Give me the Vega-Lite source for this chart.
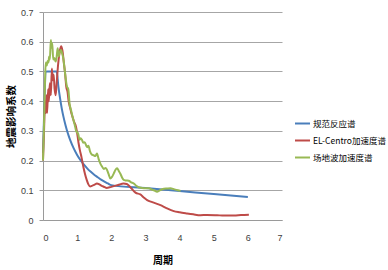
{
  "$schema": "https://vega.github.io/schema/vega-lite/v6.json",
  "width": 239,
  "height": 208,
  "autosize": "none",
  "padding": {"left": 43, "top": 12, "right": 106, "bottom": 50},
  "background": "white",
  "config": {"view": {"stroke": null}},
  "data": {"values": [
    {"s": "规范反应谱", "T": 0.0, "v": 0.225},
    {"s": "规范反应谱", "T": 0.1, "v": 0.5},
    {"s": "规范反应谱", "T": 0.4, "v": 0.5},
    {"s": "规范反应谱", "T": 0.45, "v": 0.45},
    {"s": "规范反应谱", "T": 0.5, "v": 0.409},
    {"s": "规范反应谱", "T": 0.55, "v": 0.375},
    {"s": "规范反应谱", "T": 0.6, "v": 0.347},
    {"s": "规范反应谱", "T": 0.65, "v": 0.323},
    {"s": "规范反应谱", "T": 0.7, "v": 0.302},
    {"s": "规范反应谱", "T": 0.75, "v": 0.284},
    {"s": "规范反应谱", "T": 0.8, "v": 0.268},
    {"s": "规范反应谱", "T": 0.9, "v": 0.241},
    {"s": "规范反应谱", "T": 1.0, "v": 0.219},
    {"s": "规范反应谱", "T": 1.1, "v": 0.201},
    {"s": "规范反应谱", "T": 1.2, "v": 0.186},
    {"s": "规范反应谱", "T": 1.3, "v": 0.173},
    {"s": "规范反应谱", "T": 1.4, "v": 0.162},
    {"s": "规范反应谱", "T": 1.5, "v": 0.152},
    {"s": "规范反应谱", "T": 1.6, "v": 0.144},
    {"s": "规范反应谱", "T": 1.7, "v": 0.136},
    {"s": "规范反应谱", "T": 1.8, "v": 0.129},
    {"s": "规范反应谱", "T": 1.9, "v": 0.123},
    {"s": "规范反应谱", "T": 2.0, "v": 0.1174},
    {"s": "规范反应谱", "T": 3.0, "v": 0.1074},
    {"s": "规范反应谱", "T": 4.0, "v": 0.0974},
    {"s": "规范反应谱", "T": 5.0, "v": 0.0874},
    {"s": "规范反应谱", "T": 6.0, "v": 0.0774},

    {"s": "EL-Centro加速度谱", "T": 0.0, "v": 0.2},
    {"s": "EL-Centro加速度谱", "T": 0.03, "v": 0.3},
    {"s": "EL-Centro加速度谱", "T": 0.06, "v": 0.4},
    {"s": "EL-Centro加速度谱", "T": 0.08, "v": 0.36},
    {"s": "EL-Centro加速度谱", "T": 0.1, "v": 0.42},
    {"s": "EL-Centro加速度谱", "T": 0.12, "v": 0.36},
    {"s": "EL-Centro加速度谱", "T": 0.15, "v": 0.44},
    {"s": "EL-Centro加速度谱", "T": 0.17, "v": 0.4},
    {"s": "EL-Centro加速度谱", "T": 0.2, "v": 0.46},
    {"s": "EL-Centro加速度谱", "T": 0.23, "v": 0.42},
    {"s": "EL-Centro加速度谱", "T": 0.26, "v": 0.51},
    {"s": "EL-Centro加速度谱", "T": 0.28, "v": 0.47},
    {"s": "EL-Centro加速度谱", "T": 0.31, "v": 0.49},
    {"s": "EL-Centro加速度谱", "T": 0.34, "v": 0.44},
    {"s": "EL-Centro加速度谱", "T": 0.37, "v": 0.42},
    {"s": "EL-Centro加速度谱", "T": 0.4, "v": 0.46},
    {"s": "EL-Centro加速度谱", "T": 0.44, "v": 0.52},
    {"s": "EL-Centro加速度谱", "T": 0.48, "v": 0.56},
    {"s": "EL-Centro加速度谱", "T": 0.53, "v": 0.585},
    {"s": "EL-Centro加速度谱", "T": 0.57, "v": 0.57},
    {"s": "EL-Centro加速度谱", "T": 0.61, "v": 0.53},
    {"s": "EL-Centro加速度谱", "T": 0.65, "v": 0.49},
    {"s": "EL-Centro加速度谱", "T": 0.68, "v": 0.45},
    {"s": "EL-Centro加速度谱", "T": 0.72, "v": 0.43},
    {"s": "EL-Centro加速度谱", "T": 0.75, "v": 0.4},
    {"s": "EL-Centro加速度谱", "T": 0.79, "v": 0.38},
    {"s": "EL-Centro加速度谱", "T": 0.83, "v": 0.36},
    {"s": "EL-Centro加速度谱", "T": 0.87, "v": 0.345},
    {"s": "EL-Centro加速度谱", "T": 0.91, "v": 0.33},
    {"s": "EL-Centro加速度谱", "T": 0.95, "v": 0.32},
    {"s": "EL-Centro加速度谱", "T": 0.99, "v": 0.3},
    {"s": "EL-Centro加速度谱", "T": 1.04, "v": 0.26},
    {"s": "EL-Centro加速度谱", "T": 1.08, "v": 0.235},
    {"s": "EL-Centro加速度谱", "T": 1.13, "v": 0.21},
    {"s": "EL-Centro加速度谱", "T": 1.18, "v": 0.18},
    {"s": "EL-Centro加速度谱", "T": 1.23, "v": 0.155},
    {"s": "EL-Centro加速度谱", "T": 1.28, "v": 0.135},
    {"s": "EL-Centro加速度谱", "T": 1.33, "v": 0.12},
    {"s": "EL-Centro加速度谱", "T": 1.38, "v": 0.113},
    {"s": "EL-Centro加速度谱", "T": 1.43, "v": 0.115},
    {"s": "EL-Centro加速度谱", "T": 1.5, "v": 0.118},
    {"s": "EL-Centro加速度谱", "T": 1.58, "v": 0.123},
    {"s": "EL-Centro加速度谱", "T": 1.65, "v": 0.12},
    {"s": "EL-Centro加速度谱", "T": 1.72, "v": 0.115},
    {"s": "EL-Centro加速度谱", "T": 1.78, "v": 0.112},
    {"s": "EL-Centro加速度谱", "T": 1.87, "v": 0.108},
    {"s": "EL-Centro加速度谱", "T": 1.95, "v": 0.11},
    {"s": "EL-Centro加速度谱", "T": 2.07, "v": 0.114},
    {"s": "EL-Centro加速度谱", "T": 2.2, "v": 0.118},
    {"s": "EL-Centro加速度谱", "T": 2.36, "v": 0.123},
    {"s": "EL-Centro加速度谱", "T": 2.45, "v": 0.121},
    {"s": "EL-Centro加速度谱", "T": 2.51, "v": 0.116},
    {"s": "EL-Centro加速度谱", "T": 2.6, "v": 0.105},
    {"s": "EL-Centro加速度谱", "T": 2.71, "v": 0.092},
    {"s": "EL-Centro加速度谱", "T": 2.85, "v": 0.086},
    {"s": "EL-Centro加速度谱", "T": 2.95, "v": 0.076},
    {"s": "EL-Centro加速度谱", "T": 3.05, "v": 0.067},
    {"s": "EL-Centro加速度谱", "T": 3.2, "v": 0.06},
    {"s": "EL-Centro加速度谱", "T": 3.44, "v": 0.05},
    {"s": "EL-Centro加速度谱", "T": 3.6, "v": 0.041},
    {"s": "EL-Centro加速度谱", "T": 3.83, "v": 0.03},
    {"s": "EL-Centro加速度谱", "T": 4.0, "v": 0.026},
    {"s": "EL-Centro加速度谱", "T": 4.22, "v": 0.022},
    {"s": "EL-Centro加速度谱", "T": 4.4, "v": 0.019},
    {"s": "EL-Centro加速度谱", "T": 4.61, "v": 0.016},
    {"s": "EL-Centro加速度谱", "T": 4.8, "v": 0.017},
    {"s": "EL-Centro加速度谱", "T": 5.1, "v": 0.016},
    {"s": "EL-Centro加速度谱", "T": 5.3, "v": 0.015},
    {"s": "EL-Centro加速度谱", "T": 5.6, "v": 0.015},
    {"s": "EL-Centro加速度谱", "T": 5.8, "v": 0.017},
    {"s": "EL-Centro加速度谱", "T": 6.03, "v": 0.018},

    {"s": "场地波加速度谱", "T": 0.0, "v": 0.2},
    {"s": "场地波加速度谱", "T": 0.02, "v": 0.28},
    {"s": "场地波加速度谱", "T": 0.04, "v": 0.37},
    {"s": "场地波加速度谱", "T": 0.06, "v": 0.47},
    {"s": "场地波加速度谱", "T": 0.08, "v": 0.53},
    {"s": "场地波加速度谱", "T": 0.11, "v": 0.52},
    {"s": "场地波加速度谱", "T": 0.135, "v": 0.535},
    {"s": "场地波加速度谱", "T": 0.16, "v": 0.53},
    {"s": "场地波加速度谱", "T": 0.18, "v": 0.55},
    {"s": "场地波加速度谱", "T": 0.2, "v": 0.54},
    {"s": "场地波加速度谱", "T": 0.23, "v": 0.606},
    {"s": "场地波加速度谱", "T": 0.25, "v": 0.58},
    {"s": "场地波加速度谱", "T": 0.27, "v": 0.595},
    {"s": "场地波加速度谱", "T": 0.3, "v": 0.54},
    {"s": "场地波加速度谱", "T": 0.33, "v": 0.545},
    {"s": "场地波加速度谱", "T": 0.37, "v": 0.533},
    {"s": "场地波加速度谱", "T": 0.4, "v": 0.55},
    {"s": "场地波加速度谱", "T": 0.43, "v": 0.578},
    {"s": "场地波加速度谱", "T": 0.46, "v": 0.55},
    {"s": "场地波加速度谱", "T": 0.48, "v": 0.56},
    {"s": "场地波加速度谱", "T": 0.53, "v": 0.572},
    {"s": "场地波加速度谱", "T": 0.56, "v": 0.56},
    {"s": "场地波加速度谱", "T": 0.6, "v": 0.54},
    {"s": "场地波加速度谱", "T": 0.63, "v": 0.51},
    {"s": "场地波加速度谱", "T": 0.66, "v": 0.48},
    {"s": "场地波加速度谱", "T": 0.7, "v": 0.45},
    {"s": "场地波加速度谱", "T": 0.74, "v": 0.44},
    {"s": "场地波加速度谱", "T": 0.78, "v": 0.39},
    {"s": "场地波加速度谱", "T": 0.82, "v": 0.37},
    {"s": "场地波加速度谱", "T": 0.86, "v": 0.35},
    {"s": "场地波加速度谱", "T": 0.89, "v": 0.337},
    {"s": "场地波加速度谱", "T": 0.93, "v": 0.32},
    {"s": "场地波加速度谱", "T": 0.97, "v": 0.3},
    {"s": "场地波加速度谱", "T": 1.03, "v": 0.29},
    {"s": "场地波加速度谱", "T": 1.07, "v": 0.27},
    {"s": "场地波加速度谱", "T": 1.1, "v": 0.275},
    {"s": "场地波加速度谱", "T": 1.14, "v": 0.27},
    {"s": "场地波加速度谱", "T": 1.18, "v": 0.26},
    {"s": "场地波加速度谱", "T": 1.22, "v": 0.262},
    {"s": "场地波加速度谱", "T": 1.29, "v": 0.245},
    {"s": "场地波加速度谱", "T": 1.33, "v": 0.25},
    {"s": "场地波加速度谱", "T": 1.38, "v": 0.23},
    {"s": "场地波加速度谱", "T": 1.43, "v": 0.22},
    {"s": "场地波加速度谱", "T": 1.48, "v": 0.218},
    {"s": "场地波加速度谱", "T": 1.53, "v": 0.215},
    {"s": "场地波加速度谱", "T": 1.58, "v": 0.224},
    {"s": "场地波加速度谱", "T": 1.63, "v": 0.205},
    {"s": "场地波加速度谱", "T": 1.68, "v": 0.19},
    {"s": "场地波加速度谱", "T": 1.73, "v": 0.18},
    {"s": "场地波加速度谱", "T": 1.78, "v": 0.172},
    {"s": "场地波加速度谱", "T": 1.83, "v": 0.175},
    {"s": "场地波加速度谱", "T": 1.87, "v": 0.17},
    {"s": "场地波加速度谱", "T": 1.92, "v": 0.155},
    {"s": "场地波加速度谱", "T": 1.97, "v": 0.14},
    {"s": "场地波加速度谱", "T": 2.02, "v": 0.145},
    {"s": "场地波加速度谱", "T": 2.07, "v": 0.156},
    {"s": "场地波加速度谱", "T": 2.12, "v": 0.168},
    {"s": "场地波加速度谱", "T": 2.17, "v": 0.174},
    {"s": "场地波加速度谱", "T": 2.22, "v": 0.165},
    {"s": "场地波加速度谱", "T": 2.27, "v": 0.155},
    {"s": "场地波加速度谱", "T": 2.32, "v": 0.142},
    {"s": "场地波加速度谱", "T": 2.36, "v": 0.135},
    {"s": "场地波加速度谱", "T": 2.43, "v": 0.133},
    {"s": "场地波加速度谱", "T": 2.51, "v": 0.132},
    {"s": "场地波加速度谱", "T": 2.58, "v": 0.127},
    {"s": "场地波加速度谱", "T": 2.66, "v": 0.123},
    {"s": "场地波加速度谱", "T": 2.73, "v": 0.115},
    {"s": "场地波加速度谱", "T": 2.8, "v": 0.11},
    {"s": "场地波加速度谱", "T": 2.9, "v": 0.108},
    {"s": "场地波加速度谱", "T": 3.0, "v": 0.107},
    {"s": "场地波加速度谱", "T": 3.1, "v": 0.107},
    {"s": "场地波加速度谱", "T": 3.2, "v": 0.102},
    {"s": "场地波加速度谱", "T": 3.25, "v": 0.1},
    {"s": "场地波加速度谱", "T": 3.34, "v": 0.095},
    {"s": "场地波加速度谱", "T": 3.42, "v": 0.1},
    {"s": "场地波加速度谱", "T": 3.54, "v": 0.105},
    {"s": "场地波加速度谱", "T": 3.63, "v": 0.106},
    {"s": "场地波加速度谱", "T": 3.73, "v": 0.107},
    {"s": "场地波加速度谱", "T": 3.85, "v": 0.103},
    {"s": "场地波加速度谱", "T": 3.95, "v": 0.1},
    {"s": "场地波加速度谱", "T": 4.03, "v": 0.098}
  ]},
  "mark": {"type": "line", "strokeWidth": 2, "interpolate": "monotone"},
  "encoding": {
    "x": {
      "field": "T", "type": "quantitative",
      "scale": {"domain": [0, 7], "nice": false},
      "axis": {
        "values": [0, 1, 2, 3, 4, 5, 6, 7],
        "format": "d",
        "grid": false,
        "ticks": false,
        "domainColor": "#9a9a9a",
        "labelFont": "Liberation Sans",
        "labelFontSize": 9,
        "labelColor": "#404040",
        "labelPadding": 13,
        "title": "周期",
        "titleFont": "Noto Sans CJK SC",
        "titleFontSize": 10,
        "titleFontWeight": "bold",
        "titleColor": "#000000",
        "titleX": 119.5,
        "titleY": 40,
        "titleBaseline": "middle"
      }
    },
    "y": {
      "field": "v", "type": "quantitative",
      "scale": {"domain": [0, 0.7], "nice": false},
      "axis": {
        "values": [0, 0.1, 0.2, 0.3, 0.4, 0.5, 0.6, 0.7],
        "format": ".1~f",
        "grid": true,
        "gridColor": "#a6a6a6",
        "gridWidth": 1,
        "domainColor": "#9a9a9a",
        "tickColor": "#9a9a9a",
        "tickSize": 4,
        "labelFont": "Liberation Sans",
        "labelFontSize": 9,
        "labelColor": "#404040",
        "labelPadding": 6,
        "title": "地震影响系数",
        "titleFont": "Noto Sans CJK SC",
        "titleFontSize": 10.5,
        "titleFontWeight": "bold",
        "titleColor": "#000000",
        "titleX": -32,
        "titleY": 104,
        "titleAngle": 270,
        "titleBaseline": "middle"
      }
    },
    "color": {
      "field": "s", "type": "nominal",
      "scale": {
        "domain": ["规范反应谱", "EL-Centro加速度谱", "场地波加速度谱"],
        "range": ["#4a7ebb", "#be4b48", "#98b954"]
      },
      "legend": {
        "title": null,
        "orient": "none",
        "legendX": 251,
        "legendY": 103,
        "padding": 0,
        "symbolType": "stroke",
        "symbolSize": 225,
        "symbolStrokeWidth": 2,
        "rowPadding": 4,
        "labelFont": "Noto Sans CJK SC",
        "labelFontSize": 8.5,
        "labelColor": "#000000",
        "labelOffset": 2
      }
    }
  }
}
